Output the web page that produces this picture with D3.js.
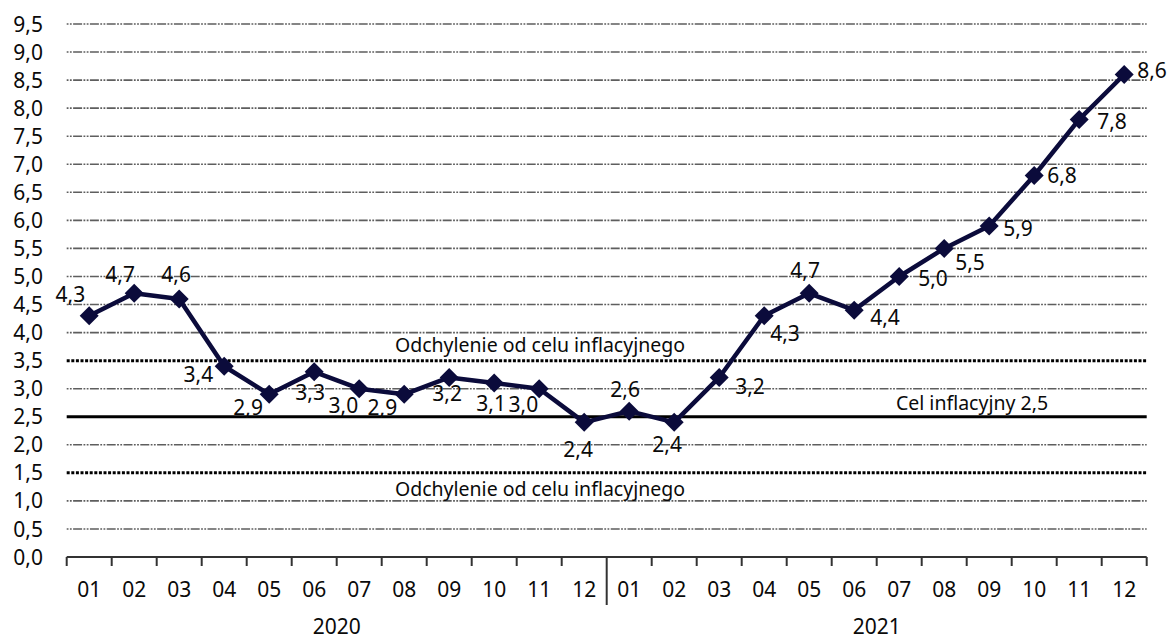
<!DOCTYPE html>
<html>
<head>
<meta charset="utf-8">
<script src="https://cdn.jsdelivr.net/npm/d3@7"></script>
<style>
  html, body { margin: 0; padding: 0; background: #fff; }
  svg { display: block; font-family: "Noto Sans", "Open Sans", sans-serif; }
</style>
</head>
<body>
<svg id="chart" width="1170" height="634"></svg>
<script>
"use strict";

// Data
const MONTHS = ["01","02","03","04","05","06","07","08","09","10","11","12",
                "01","02","03","04","05","06","07","08","09","10","11","12"];
const YEARS = ["2020", "2021"];
const CPI = [4.3, 4.7, 4.6, 3.4, 2.9, 3.3, 3.0, 2.9, 3.2, 3.1, 3.0, 2.4,
             2.6, 2.4, 3.2, 4.3, 4.7, 4.4, 5.0, 5.5, 5.9, 6.8, 7.8, 8.6];
const TARGET = 2.5;
const BAND = [3.5, 1.5];
const Y_TICKS = d3.range(0, 9.51, 0.5);
const BAND_LABEL = "Odchylenie od celu inflacyjnego";
const TARGET_LABEL = "Cel inflacyjny 2,5";

// Label nudges relative to each point: [dx, dy, anchor]
const LABEL_NUDGE = [
  [-4, -14, "end"], [-14, -11, "middle"], [-3, -17, "middle"], [-11, 16, "end"],
  [-21, 21, "middle"], [-4, 28, "middle"], [-1, 24, "end"], [-7, 21, "end"],
  [-2, 24, "middle"], [-3, 28, "middle"], [-1, 23, "end"], [-6, 35, "middle"],
  [-4, -14, "middle"], [-7, 30, "middle"], [16, 17, "start"], [6, 25, "start"],
  [-4, -15, "middle"], [16, 15, "start"], [19, 10, "start"], [11, 22, "start"],
  [14, 10, "start"], [13, 8, "start"], [18, 10, "start"], [13, 4, "start"]
];

// Dimensions
const LEFT = 66.7, RIGHT = 1146.7, TOP = 24, BOTTOM = 557;
const LINE_COLOR = "#0b0b3b";
const TEXT_COLOR = "#0a0a0a";
const FMT = v => d3.format(".1f")(v).replace(".", ",");

const SVG = d3.select("#chart");

const X_SCALE = d3.scaleBand()
  .domain(d3.range(MONTHS.length))
  .range([LEFT, RIGHT]);

const Y_SCALE = d3.scaleLinear()
  .domain([0, 9.5])
  .range([BOTTOM, TOP]);

const xMid = i => X_SCALE(i) + X_SCALE.bandwidth() / 2;

// Grid lines (dash-dot-dot)
SVG.append("g")
  .selectAll("line")
  .data(Y_TICKS.filter(v => v > 0 && v !== TARGET && BAND.indexOf(v) < 0))
  .join("line")
  .attr("x1", LEFT)
  .attr("x2", RIGHT)
  .attr("y1", d => Y_SCALE(d))
  .attr("y2", d => Y_SCALE(d))
  .attr("stroke", "#5e5e5e")
  .attr("stroke-width", 1.6)
  .attr("stroke-dasharray", "1.8,1.4,1.8,1.4,9,1.4");

// Y tick labels
SVG.append("g")
  .selectAll("text")
  .data(Y_TICKS)
  .join("text")
  .attr("x", 43)
  .attr("y", d => Y_SCALE(d))
  .attr("dy", "0.36em")
  .attr("text-anchor", "end")
  .attr("font-size", 21)
  .attr("fill", TEXT_COLOR)
  .text(FMT);

// Tolerance band lines (dotted)
SVG.append("g")
  .selectAll("line")
  .data(BAND)
  .join("line")
  .attr("x1", LEFT)
  .attr("x2", RIGHT)
  .attr("y1", d => Y_SCALE(d))
  .attr("y2", d => Y_SCALE(d))
  .attr("stroke", "#000")
  .attr("stroke-width", 3)
  .attr("stroke-dasharray", "3,1.6");

// Target line
SVG.append("line")
  .attr("x1", LEFT)
  .attr("x2", RIGHT)
  .attr("y1", Y_SCALE(TARGET))
  .attr("y2", Y_SCALE(TARGET))
  .attr("stroke", "#000")
  .attr("stroke-width", 3);

// Band and target labels
SVG.append("text")
  .attr("x", 540)
  .attr("y", Y_SCALE(BAND[0]) - 9)
  .attr("text-anchor", "middle")
  .attr("font-size", 19.5)
  .attr("fill", TEXT_COLOR)
  .text(BAND_LABEL);

SVG.append("text")
  .attr("x", 540)
  .attr("y", Y_SCALE(BAND[1]) + 23)
  .attr("text-anchor", "middle")
  .attr("font-size", 19.5)
  .attr("fill", TEXT_COLOR)
  .text(BAND_LABEL);

SVG.append("text")
  .attr("x", 972)
  .attr("y", Y_SCALE(TARGET) - 7)
  .attr("text-anchor", "middle")
  .attr("font-size", 19.5)
  .attr("fill", TEXT_COLOR)
  .text(TARGET_LABEL);

// X axis
const G_AXIS = SVG.append("g").attr("stroke", "#333");
G_AXIS.append("line")
  .attr("x1", LEFT).attr("x2", RIGHT)
  .attr("y1", BOTTOM).attr("y2", BOTTOM)
  .attr("stroke-width", 2);

G_AXIS.selectAll("line.tick")
  .data(d3.range(MONTHS.length + 1))
  .join("line")
  .classed("tick", true)
  .attr("x1", d => LEFT + d * X_SCALE.bandwidth())
  .attr("x2", d => LEFT + d * X_SCALE.bandwidth())
  .attr("y1", BOTTOM)
  .attr("y2", d => d === 12 ? 605 : 566)
  .attr("stroke-width", 2);

SVG.append("g")
  .selectAll("text")
  .data(MONTHS)
  .join("text")
  .attr("x", (d, i) => xMid(i))
  .attr("y", 597)
  .attr("text-anchor", "middle")
  .attr("font-size", 21)
  .attr("fill", TEXT_COLOR)
  .text(d => d);

SVG.append("g")
  .selectAll("text")
  .data(YEARS)
  .join("text")
  .attr("x", (d, i) => X_SCALE(i * 12 + 6))
  .attr("y", 634)
  .attr("text-anchor", "middle")
  .attr("font-size", 21)
  .attr("fill", TEXT_COLOR)
  .text(d => d);

// Series line
const LINE = d3.line()
  .x((d, i) => xMid(i))
  .y(d => Y_SCALE(d));

SVG.append("path")
  .datum(CPI)
  .attr("fill", "none")
  .attr("stroke", LINE_COLOR)
  .attr("stroke-width", 4.5)
  .attr("stroke-linejoin", "round")
  .attr("d", LINE);

// Diamond markers
SVG.append("g")
  .selectAll("path")
  .data(CPI)
  .join("path")
  .attr("transform", (d, i) => "translate(" + xMid(i) + "," + Y_SCALE(d) + ")")
  .attr("d", "M0,-9.5L9.5,0L0,9.5L-9.5,0Z")
  .attr("fill", LINE_COLOR);

// Value labels
SVG.append("g")
  .selectAll("text")
  .data(CPI)
  .join("text")
  .attr("x", (d, i) => xMid(i) + LABEL_NUDGE[i][0])
  .attr("y", (d, i) => Y_SCALE(d) + LABEL_NUDGE[i][1])
  .attr("text-anchor", (d, i) => LABEL_NUDGE[i][2])
  .attr("font-size", 21)
  .attr("fill", TEXT_COLOR)
  .text(FMT);
</script>
</body>
</html>
